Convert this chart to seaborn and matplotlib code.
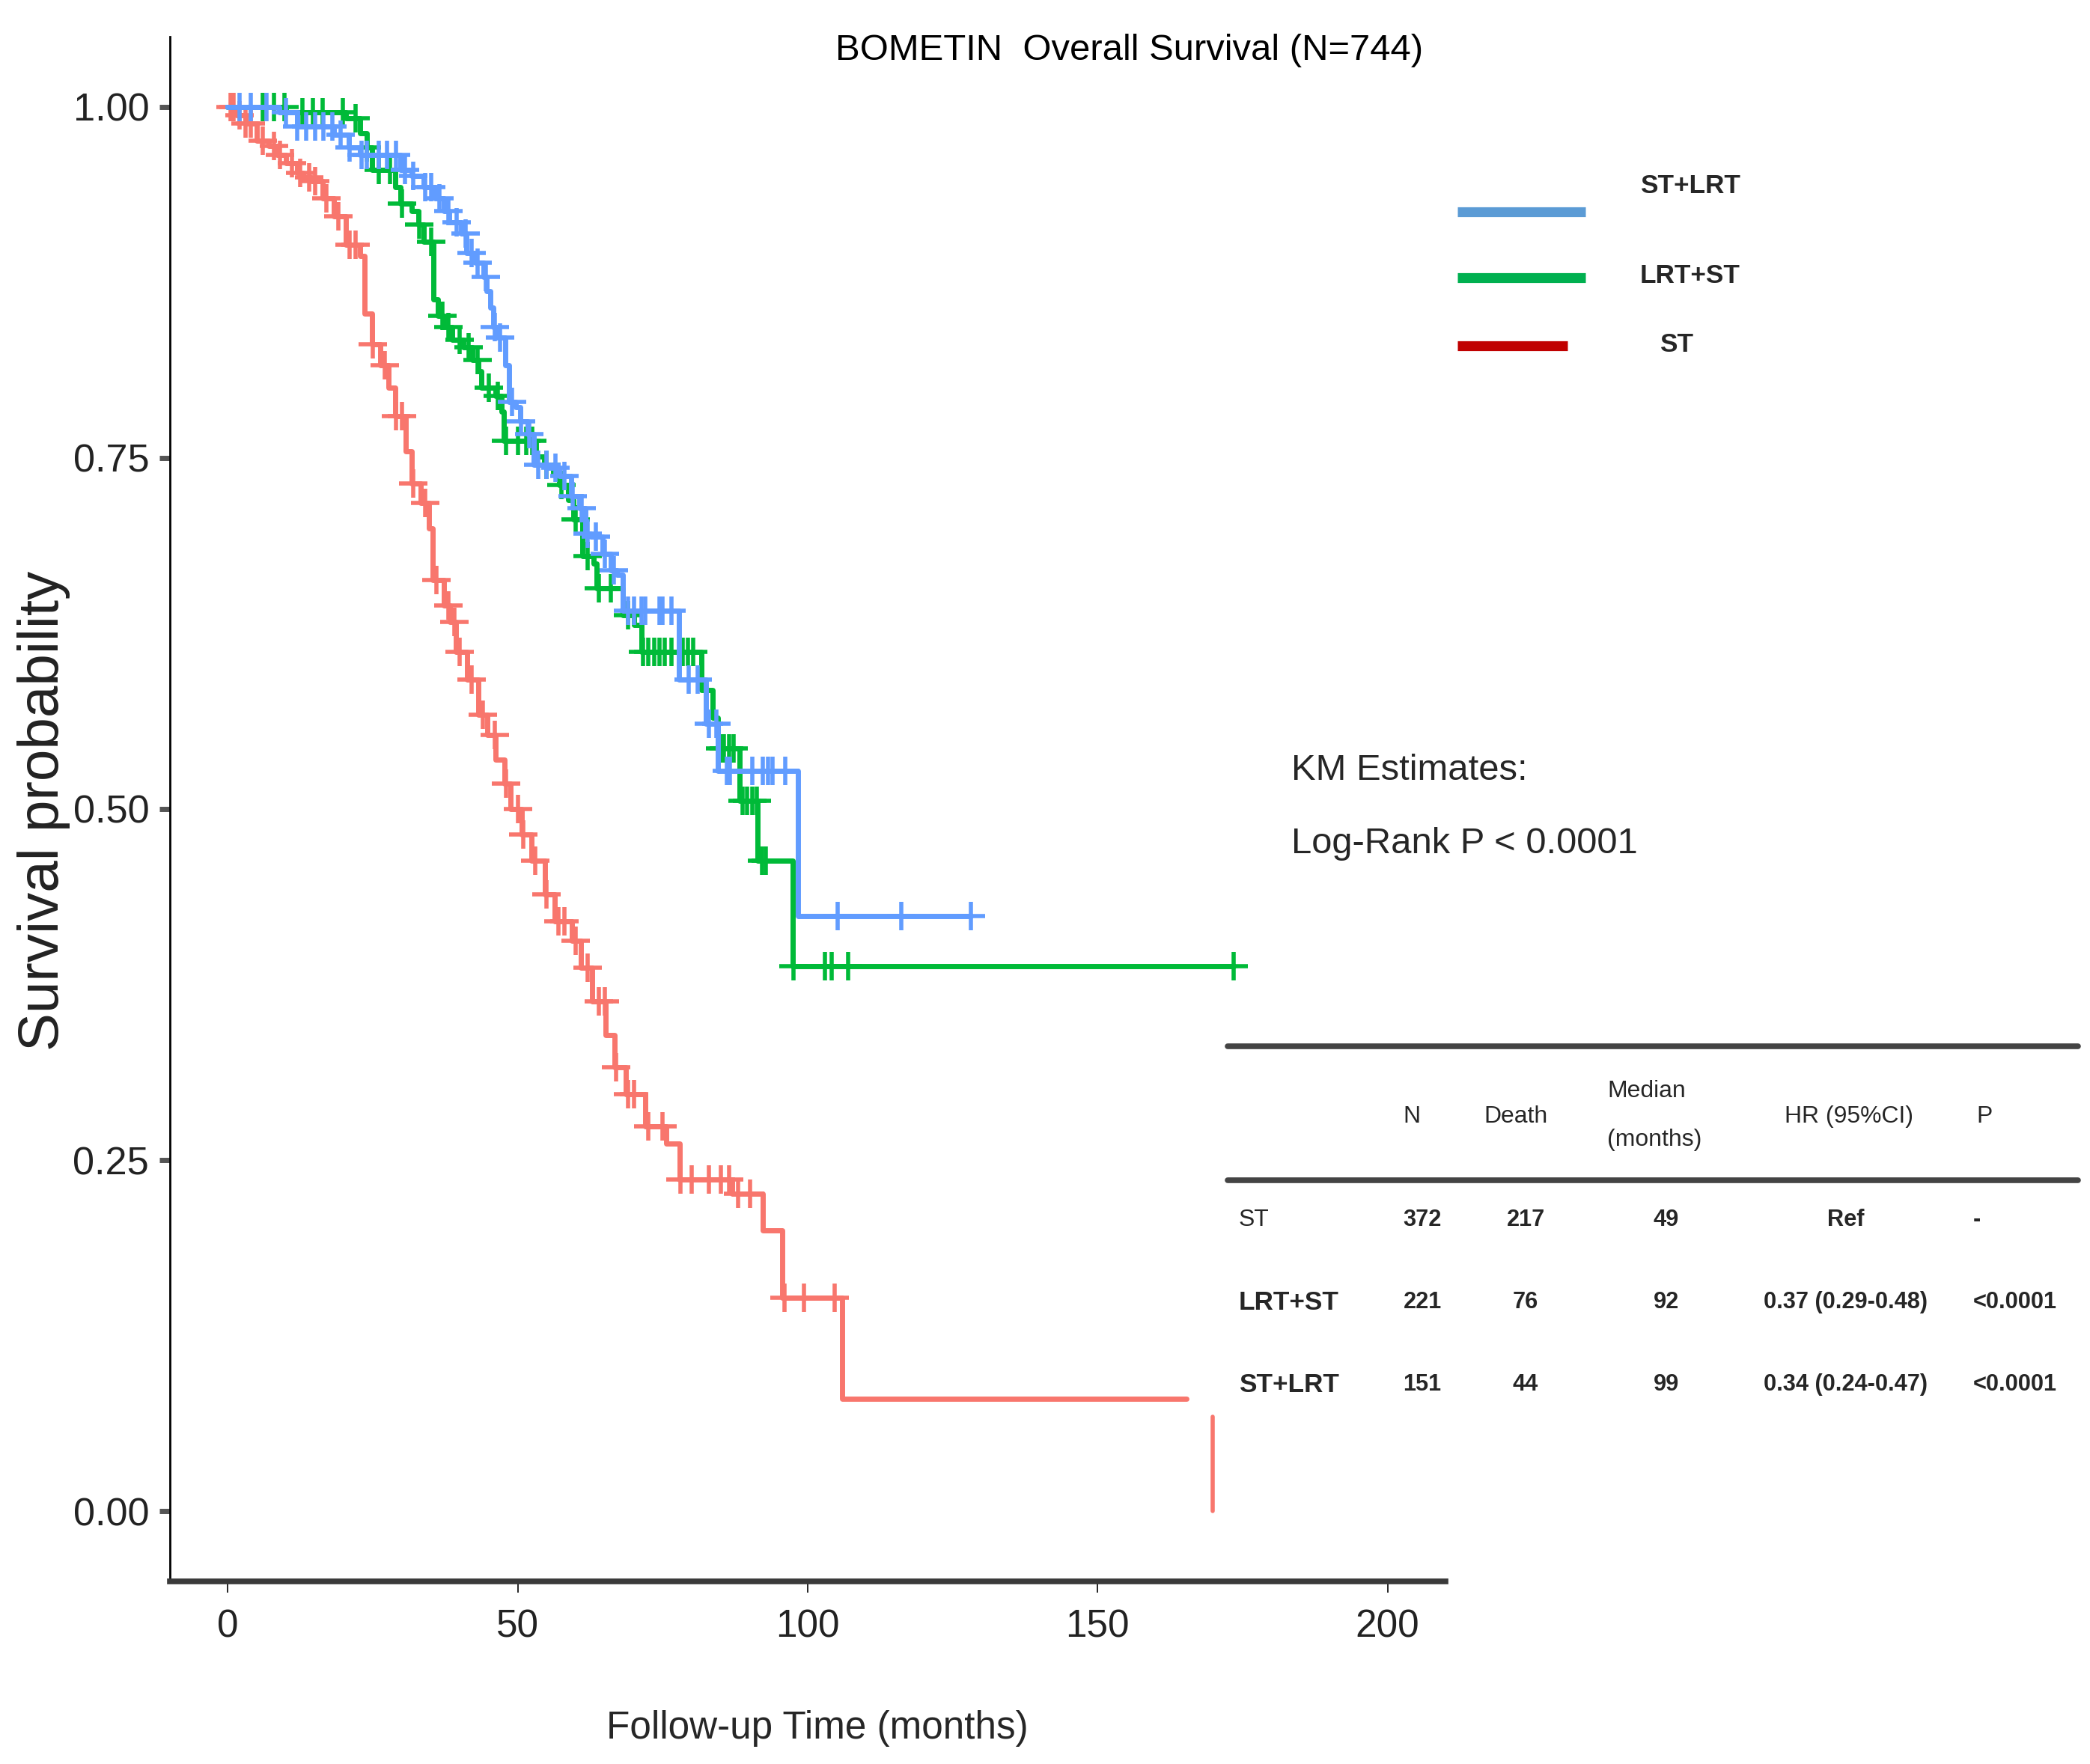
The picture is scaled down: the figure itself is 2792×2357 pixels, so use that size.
import matplotlib
matplotlib.use('Agg')
import matplotlib.pyplot as plt
from matplotlib import font_manager
from matplotlib.lines import Line2D
import seaborn as sns
import numpy as np

# --- KM step curves (time in months, survival) ---
st_t = [0, 1.5, 3, 5, 7, 8.4, 10, 11.9, 13, 14.4, 16.4, 18.3, 20.4, 22.8, 23.6, 24.8,
        26.3, 27.7, 28.8, 30.7, 31.7, 33.3, 34.7, 35.3, 37.2, 38.3, 39.3, 41.3, 43.2,
        44.7, 46.2, 47.7, 48.8, 50.7, 52.3, 54.7, 56.3, 59.3, 60.9, 62.8, 65.1, 66.7,
        68.6, 72.0, 75.6, 77.9, 87.0, 92.3, 95.6, 106.0]
st_s = [1.0, 0.994, 0.988, 0.976, 0.972, 0.966, 0.96, 0.953, 0.95, 0.947, 0.935, 0.922,
        0.902, 0.894, 0.853, 0.831, 0.816, 0.80, 0.78, 0.755, 0.732, 0.718, 0.70, 0.663,
        0.645, 0.633, 0.612, 0.592, 0.567, 0.553, 0.535, 0.518, 0.50, 0.482, 0.463,
        0.439, 0.42, 0.406, 0.387, 0.363, 0.339, 0.316, 0.297, 0.274, 0.262, 0.236,
        0.226, 0.20, 0.152, 0.08]
st_end = 165.3
st_tail_t = [169.8, 169.8]
st_tail_s = [0.067, 0.0]
st_cens = [0.5, 1, 2, 3, 4, 6, 8, 9, 11, 12.5, 14, 15, 17, 19, 21, 22, 25, 27, 29, 30,
           32, 34, 36, 38, 39, 40, 42, 44, 46, 48, 50, 51, 53, 55, 57, 58, 60, 62, 64,
           65, 67, 69, 70, 72.5, 75, 78, 80, 83, 85, 86.5, 88, 90, 96, 99.3, 104.7]

lrt_st_t = [0, 10, 20.4, 22.8, 23.9, 24.8, 28.8, 29.8, 31.7, 32.8, 33.8, 35.5, 36.2,
            37.3, 38.7, 40.6, 42.2, 43.2, 43.7, 46.2, 47.2, 47.6, 53.1, 54.5, 56.1, 57.1,
            58.7, 59.6, 61.1, 63.1, 63.6, 68.1, 70.0, 71.3, 81.7, 83.6, 84.5, 88.3, 91.4,
            97.4]
lrt_st_s = [1.0, 0.996, 0.992, 0.981, 0.971, 0.955, 0.943, 0.931, 0.926, 0.916, 0.904,
            0.863, 0.851, 0.843, 0.834, 0.829, 0.82, 0.812, 0.80, 0.794, 0.783, 0.762,
            0.751, 0.745, 0.739, 0.731, 0.72, 0.706, 0.68, 0.675, 0.657, 0.638, 0.631,
            0.612, 0.585, 0.565, 0.543, 0.506, 0.463, 0.388]
lrt_st_end = 173.5
lrt_st_cens = [6, 8, 9.8, 12.8, 14.7, 16.3, 19.8, 22, 24, 26, 28, 30, 33, 35, 37, 38,
               40, 41.5, 43, 45, 46.5, 48, 50, 51.5, 52.5, 55, 57.5, 60, 62, 64, 66, 69,
               71.6, 72.5, 73.5, 74.5, 75.4, 76.5, 78.5, 79.4, 80.2, 84.9, 85.6, 86.4,
               87.2, 88.8, 89.6, 90.4, 91.2, 92.1, 92.8, 97.5, 103, 104.1, 107, 173.5]

st_lrt_t = [0, 8.9, 11.9, 18.3, 20.9, 22.8, 29.8, 31.7, 33.8, 35.7, 37.3, 38.2, 40.2,
            41.1, 42.7, 44.1, 44.6, 45.2, 45.8, 46.4, 47.9, 48.5, 49.7, 50.4, 51.7, 52.7,
            55.2, 57.1, 59.2, 60.6, 61.6, 62.5, 64.6, 66.0, 67.1, 68.1, 77.8, 82.4, 84.5,
            98.3]
st_lrt_s = [1.0, 0.996, 0.986, 0.98, 0.971, 0.966, 0.955, 0.951, 0.943, 0.935, 0.926,
            0.918, 0.91, 0.896, 0.889, 0.879, 0.869, 0.857, 0.843, 0.836, 0.816, 0.79,
            0.786, 0.776, 0.767, 0.745, 0.743, 0.737, 0.723, 0.714, 0.696, 0.694, 0.682,
            0.67, 0.667, 0.641, 0.592, 0.561, 0.527, 0.424]
st_lrt_end = 128.1
st_lrt_cens = [2, 4, 6.7, 10, 12, 13.5, 15, 16.5, 18, 19.5, 21, 23, 24, 26, 27.5, 29,
               30.5, 32, 34, 35, 36.5, 38, 39.5, 41, 42, 43, 44.5, 46, 47, 49, 50.5, 52,
               53.5, 55, 56.5, 58, 59.5, 61, 62, 63.5, 65, 66.5, 69, 70, 71.3, 72, 74.5,
               75, 76.5, 79.5, 81, 83, 84.2, 86.1, 86.6, 90.4, 92.3, 93.1, 93.9, 96.1,
               105.1, 116.2, 128.1]

# --- legend and table text ---
legend_labels = ['ST+LRT', 'LRT+ST', 'ST']
legend_colors = ['#5B9BD5', '#00B050', '#C00000']
table_header = ['N', 'Death', 'HR (95%CI)', 'P']
table_rows = ['ST', 'LRT+ST', 'ST+LRT']
table_n = ['372', '221', '151']
table_death = ['217', '76', '44']
table_median = ['49', '92', '99']
table_hr = ['Ref', '0.37 (0.29-0.48)', '0.34 (0.24-0.47)']
table_p = ['-', '<0.0001', '<0.0001']

sns.set_theme(style='white')
names = {f.name for f in font_manager.fontManager.ttflist}
if 'Liberation Sans Narrow' in names:
    NARROW, K = 'Liberation Sans Narrow', 1.0
else:
    NARROW, K = 'Liberation Sans', 0.82
plt.rcParams['font.family'] = [NARROW, 'DejaVu Sans']

W, H = 2792, 2357
fig = plt.figure(figsize=(W / 100, H / 100), dpi=100)
ax = fig.add_axes([227 / W, 1 - 2113 / H, (1931 - 227) / W, (2113 - 49) / H])


def fx(px):
    return px / W


def fy(py):
    return 1 - py / H


curves = [
    (st_t, st_s, st_end, st_cens, '#F8766D'),
    (lrt_st_t, lrt_st_s, lrt_st_end, lrt_st_cens, '#00BA38'),
    (st_lrt_t, st_lrt_s, st_lrt_end, st_lrt_cens, '#619CFF'),
]
for t, s, t_end, cens, col in curves:
    sns.lineplot(x=t + [t_end], y=s + [s[-1]], drawstyle='steps-post', color=col,
                 lw=5, estimator=None, sort=False, ax=ax, legend=False)
    idx = np.searchsorted(t, cens, side='right') - 1
    ax.plot(cens, np.array(s)[idx], ls='none', marker='+', ms=28, mew=4, color=col)
    if col == '#F8766D':
        sns.lineplot(x=st_tail_t, y=st_tail_s, color=col, lw=4, estimator=None,
                     sort=False, ax=ax, legend=False)

ax.set_xlim(-10, 210)
ax.set_ylim(-0.05, 1.05)
ax.set_xticks([0, 50, 100, 150, 200])
ax.set_yticks([0, 0.25, 0.5, 0.75, 1.0])
ax.set_yticklabels(['0.00', '0.25', '0.50', '0.75', '1.00'])
ax.set_xlabel('')
ax.set_ylabel('')
for side in ['top', 'right']:
    ax.spines[side].set_visible(False)
ax.spines['left'].set_linewidth(2)
ax.spines['left'].set_color('black')
ax.spines['bottom'].set_linewidth(5.5)
ax.spines['bottom'].set_color('#3a3a3a')
ax.tick_params(axis='x', bottom=True, length=11, width=1.2, color='black', pad=15,
               labelsize=45 * K, labelcolor='#222222')
ax.tick_params(axis='y', left=True, length=10, width=5, color='#555555', pad=10,
               labelsize=46 * K, labelcolor='#222222')

# titles and axis labels
fig.text(fx(1509), fy(68), 'BOMETIN  Overall Survival (N=744)', ha='center',
         va='center', fontsize=43 * K, color='black')
fig.text(fx(59), fy(1083), 'Survival probability', rotation=90, ha='center',
         va='center', fontsize=55, family=['Liberation Sans', 'DejaVu Sans'],
         color='#222222')
fig.text(fx(1092), fy(2309), 'Follow-up Time (months)', ha='center', va='center',
         fontsize=45 * K)

fig.text(fx(1725), fy(1029), 'KM Estimates:', ha='left', va='center', fontsize=43 * K)
fig.text(fx(1725), fy(1128), 'Log-Rank P < 0.0001', ha='left', va='center',
         fontsize=43 * K)

# legend
leg_y = [283, 371, 462]
leg_x2 = [2118, 2118, 2094]
lab_x = [2258, 2258, 2240]
lab_y = [248, 368, 460]
for lab, col, y, x2, lx, ly in zip(legend_labels, legend_colors, leg_y, leg_x2, lab_x, lab_y):
    fig.add_artist(Line2D([fx(1947), fx(x2)], [fy(y), fy(y)], transform=fig.transFigure,
                          color=col, lw=9.5, solid_capstyle='butt'))
    fig.text(fx(lx), fy(ly), lab, ha='center', va='center', fontsize=31 * K,
             fontweight='bold')

# table
for y in [1398, 1577]:
    fig.add_artist(Line2D([fx(1640), fx(2776)], [fy(y), fy(y)], transform=fig.transFigure,
                          color='#444444', lw=5.5))
hdr_x = [1886, 2025, 2470, 2640]
hdr_ha = ['center', 'center', 'center', 'left']
for h, x, ha in zip(table_header, hdr_x, hdr_ha):
    fig.text(fx(x), fy(1492), h, ha=ha, va='center', fontsize=28 * K)
fig.text(fx(2147), fy(1458), 'Median', ha='left', va='center', fontsize=28 * K)
fig.text(fx(2147), fy(1523), '(months)', ha='left', va='center', fontsize=28 * K)

row_y = [1630, 1740, 1850]
for i, y in enumerate(row_y):
    big = table_rows[i] != 'ST'
    fig.text(fx(1655), fy(y), table_rows[i], ha='left', va='center',
             fontsize=(31 if big else 28) * K, fontweight='bold' if big else 'normal')
    fig.text(fx(1900), fy(y), table_n[i], ha='center', va='center', fontsize=27 * K,
             fontweight='bold')
    fig.text(fx(2038), fy(y), table_death[i], ha='center', va='center', fontsize=27 * K,
             fontweight='bold')
    fig.text(fx(2226), fy(y), table_median[i], ha='center', va='center', fontsize=27 * K,
             fontweight='bold')
    fig.text(fx(2466), fy(y), table_hr[i], ha='center', va='center', fontsize=27 * K,
             fontweight='bold')
    fig.text(fx(2636), fy(y), table_p[i], ha='left', va='center', fontsize=27 * K,
             fontweight='bold')

fig.savefig('out.png', dpi=100, facecolor='white')
